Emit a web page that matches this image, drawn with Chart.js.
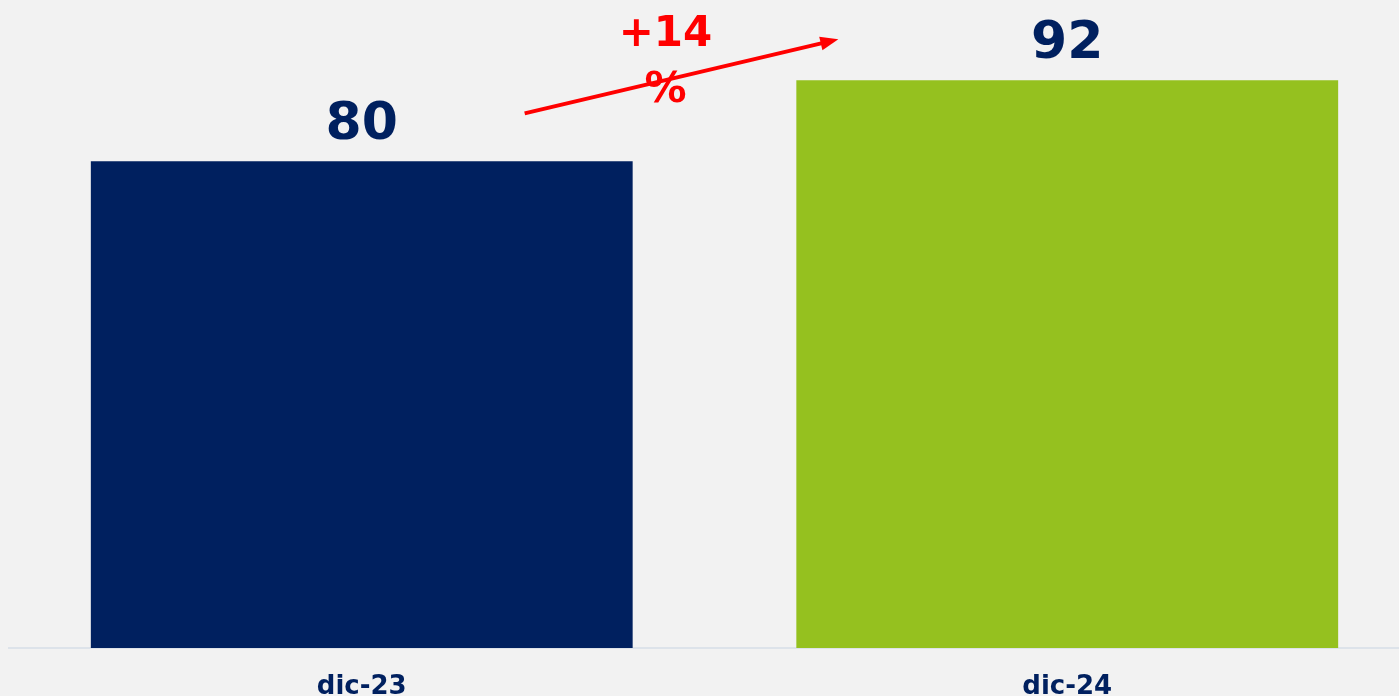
<!DOCTYPE html>
<html>
<head>
<meta charset="utf-8">
<script src="https://cdn.jsdelivr.net/npm/chart.js@4"></script>
<style>
    html, body {
        margin: 0;
        padding: 0;
        width: 1399px;
        height: 696px;
        overflow: hidden;
        background: #f2f2f2;
    }
    #chart {
        display: block;
    }
</style>
</head>
<body>
<canvas id="chart" width="1430" height="696"></canvas>
<script>
    const categories = ['dic-23', 'dic-24'];
    const values = [80, 92];
    const barColors = ['#00205f', '#95c11f'];
    const changeLabel = ['+14', '%'];

    const navy = '#00205f';
    const red = '#ff0000';
    const fontFamily = '"DejaVu Sans", sans-serif';

    // draws the value on top of each bar and the red growth arrow between them
    const labelsPlugin = {
        id: 'labels',
        afterDatasetsDraw: function (chart) {
            let ctx = chart.ctx;
            let bars = chart.getDatasetMeta(0).data;

            ctx.save();
            ctx.fillStyle = navy;
            ctx.font = 'bold 52px ' + fontFamily;
            ctx.textAlign = 'center';
            ctx.textBaseline = 'bottom';
            bars.forEach(function (bar, i) {
                ctx.fillText(values[i], bar.x, bar.y - 10);
            });

            let b1 = bars[0].getProps(['x', 'y', 'width']);
            let b2 = bars[1].getProps(['x', 'y', 'width']);
            let x1 = b1.x + b1.width / 2 - 108;
            let y1 = b1.y - 48;
            let x2 = b2.x - b2.width / 2 + 42;
            let y2 = b2.y - 41;
            let angle = Math.atan2(y2 - y1, x2 - x1);
            let head = 18;

            ctx.strokeStyle = red;
            ctx.fillStyle = red;
            ctx.lineWidth = 4;
            ctx.beginPath();
            ctx.moveTo(x1, y1);
            ctx.lineTo(x2 - head * 0.8 * Math.cos(angle), y2 - head * 0.8 * Math.sin(angle));
            ctx.stroke();
            ctx.beginPath();
            ctx.moveTo(x2, y2);
            ctx.lineTo(x2 - head * Math.cos(angle) + 7 * Math.sin(angle), y2 - head * Math.sin(angle) - 7 * Math.cos(angle));
            ctx.lineTo(x2 - head * Math.cos(angle) - 7 * Math.sin(angle), y2 - head * Math.sin(angle) + 7 * Math.cos(angle));
            ctx.closePath();
            ctx.fill();

            let cx = (x1 + x2) / 2 - 16;
            ctx.font = 'bold 42px ' + fontFamily;
            ctx.textBaseline = 'alphabetic';
            ctx.fillText(changeLabel[0], cx, y2 + 7);
            ctx.fillText(changeLabel[1], cx, y2 + 63);
            ctx.restore();
        }
    };

    let ctx = document.getElementById('chart').getContext('2d');

    window.myChart = new Chart(ctx, {
        type: 'bar',
        data: {
            labels: categories,
            datasets: [{
                data: values,
                backgroundColor: barColors,
                borderWidth: 0,
                categoryPercentage: 1,
                barPercentage: 0.768
            }]
        },
        options: {
            responsive: false,
            animation: false,
            layout: {
                padding: { left: 9, right: 10, top: 0, bottom: 0 }
            },
            scales: {
                x: {
                    grid: { display: false },
                    border: { display: true, color: '#dde3ea', width: 2 },
                    ticks: {
                        color: navy,
                        padding: 16,
                        font: { family: fontFamily, size: 26, weight: 'bold' }
                    },
                    afterFit: function (scale) {
                        scale.height = 48;
                    }
                },
                y: {
                    display: false,
                    min: 7.9,
                    max: 103.9
                }
            },
            plugins: {
                legend: { display: false },
                tooltip: { enabled: false }
            }
        },
        plugins: [labelsPlugin]
    });
</script>
</body>
</html>
